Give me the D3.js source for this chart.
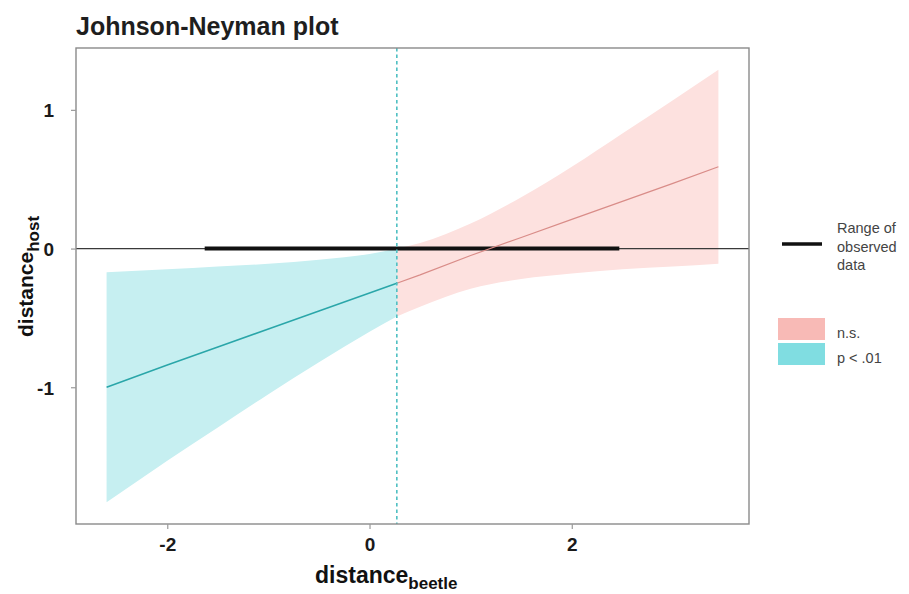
<!DOCTYPE html>
<html>
<head>
<meta charset="utf-8">
<script src="https://cdn.jsdelivr.net/npm/d3@7"></script>
<style>
  body { margin: 0; background: #fff; }
  svg { display: block; font-family: "Liberation Sans", Arial, Helvetica, sans-serif; }
</style>
</head>
<body>
<svg id="chart" width="909" height="594"></svg>
<script>
// Conditional slope of distance_host across distance_beetle, with 95% band
const moderator = [-2.6, -2.0, -1.5, -1.0, -0.5, 0, 0.27, 0.5, 1.0, 1.5, 2.0, 2.5, 3.0, 3.45];
const slope     = [-1.00, -0.84, -0.71, -0.58, -0.45, -0.32, -0.25, -0.19, -0.05, 0.08, 0.21, 0.34, 0.47, 0.59];
const lower     = [-1.83, -1.53, -1.29, -1.05, -0.82, -0.60, -0.49, -0.42, -0.29, -0.22, -0.18, -0.15, -0.13, -0.11];
const upper     = [-0.17, -0.15, -0.13, -0.11, -0.08, -0.04, 0.00, 0.04, 0.18, 0.37, 0.59, 0.83, 1.07, 1.29];

// Johnson-Neyman boundary and observed range of the moderator
const jnPoint = 0.27;
const observedRange = [-1.63, 2.47];

const xTicks = [-2, 0, 2];
const yTicks = [-1, 0, 1];
const legendLineLabel = ["Range of", "observed", "data"];
const legendBands = ["n.s.", "p < .01"];

const colors = {
  nsBand: "#fde1df", sigBand: "#c6eff1",
  nsLine: "#d98c88", sigLine: "#2aa6a9",
  nsKey: "#f8bab6", sigKey: "#80dde1",
  vline: "#4fbfc2"
};

const svg = d3.select("#chart");
const panel = { left: 76, right: 749, top: 48, bottom: 524 };

const rows = moderator.map((x, i) => ({ x, est: slope[i], lo: lower[i], hi: upper[i] }));
const sigRows = rows.filter(d => d.x <= jnPoint);
const nsRows = rows.filter(d => d.x >= jnPoint);

// 5% expansion around the data on both axes
const xExt = d3.extent(moderator);
const xPad = (xExt[1] - xExt[0]) * 0.05;
const yExt = [d3.min(lower), d3.max(upper)];
const yPad = (yExt[1] - yExt[0]) * 0.05;

const x = d3.scaleLinear().domain([xExt[0] - xPad, xExt[1] + xPad]).range([panel.left, panel.right]);
const y = d3.scaleLinear().domain([yExt[0] - yPad, yExt[1] + yPad]).range([panel.bottom, panel.top]);

const band = d3.area().x(d => x(d.x)).y0(d => y(d.lo)).y1(d => y(d.hi)).curve(d3.curveMonotoneX);
const line = d3.line().x(d => x(d.x)).y(d => y(d.est));

// Confidence bands
svg.append("path").datum(sigRows).attr("d", band).attr("fill", colors.sigBand);
svg.append("path").datum(nsRows).attr("d", band).attr("fill", colors.nsBand);

// Zero reference line
svg.append("line")
  .attr("x1", panel.left).attr("x2", panel.right)
  .attr("y1", y(0)).attr("y2", y(0))
  .attr("stroke", "#3a3a3a").attr("stroke-width", 1.2);

// Observed range of the moderator
svg.append("line")
  .attr("x1", x(observedRange[0])).attr("x2", x(observedRange[1]))
  .attr("y1", y(0)).attr("y2", y(0))
  .attr("stroke", "#111").attr("stroke-width", 4);

// Slope estimate, split at the boundary
svg.append("path").datum(sigRows).attr("d", line)
  .attr("fill", "none").attr("stroke", colors.sigLine).attr("stroke-width", 1.5);
svg.append("path").datum(nsRows).attr("d", line)
  .attr("fill", "none").attr("stroke", colors.nsLine).attr("stroke-width", 1.2);

// Johnson-Neyman boundary
svg.append("line")
  .attr("x1", x(jnPoint)).attr("x2", x(jnPoint))
  .attr("y1", panel.top).attr("y2", panel.bottom)
  .attr("stroke", colors.vline).attr("stroke-width", 1.6)
  .attr("stroke-dasharray", "3.5,3");

// Panel border
svg.append("rect")
  .attr("x", panel.left).attr("y", panel.top)
  .attr("width", panel.right - panel.left).attr("height", panel.bottom - panel.top)
  .attr("fill", "none").attr("stroke", "#8a8a8a").attr("stroke-width", 1.4);

// Axes (plain hyphen for negative labels)
const fmt = d => String(d);
const xAxis = svg.append("g").attr("transform", `translate(0,${panel.bottom})`)
  .call(d3.axisBottom(x).tickValues(xTicks).tickFormat(fmt).tickSize(5).tickPadding(9));
const yAxis = svg.append("g").attr("transform", `translate(${panel.left},0)`)
  .call(d3.axisLeft(y).tickValues(yTicks).tickFormat(fmt).tickSize(5).tickPadding(17));
[xAxis, yAxis].forEach(g => {
  g.select(".domain").remove();
  g.selectAll(".tick line").attr("stroke", "#9a9a9a").attr("stroke-width", 1.2);
  g.selectAll(".tick text")
    .attr("fill", "#1a1a1a")
    .style("font-family", '"Liberation Sans", Arial, sans-serif')
    .style("font-size", "19px").style("font-weight", "bold");
});
yAxis.selectAll(".tick text").attr("dy", "0.36em");

// Title
svg.append("text").attr("x", 76).attr("y", 35)
  .attr("fill", "#1e1e1e").style("font-size", "25px").style("font-weight", "bold")
  .text("Johnson-Neyman plot");

// Axis titles with subscripts
const xTitle = svg.append("text").attr("x", 315).attr("y", 583)
  .attr("fill", "#111").style("font-size", "23px").style("font-weight", "bold");
xTitle.append("tspan").text("distance");
xTitle.append("tspan").attr("dy", 6).style("font-size", "17px").text("beetle");

const yTitle = svg.append("text").attr("transform", "translate(33,337) rotate(-90)")
  .attr("fill", "#111").style("font-size", "21px").style("font-weight", "bold");
yTitle.append("tspan").text("distance");
yTitle.append("tspan").attr("dy", 6).style("font-size", "17px").text("host");

// Legend: observed range
const legend = svg.append("g");
legend.append("line").attr("x1", 782).attr("x2", 822).attr("y1", 244).attr("y2", 244)
  .attr("stroke", "#111").attr("stroke-width", 3.5);
legend.selectAll("text.range").data(legendLineLabel).join("text")
  .attr("class", "range")
  .attr("x", 837).attr("y", (d, i) => 233 + i * 18.5)
  .attr("fill", "#444").style("font-size", "14.5px")
  .text(d => d);

// Legend: significance bands
const keyFills = [colors.nsKey, colors.sigKey];
legend.selectAll("rect.key").data(legendBands).join("rect")
  .attr("class", "key")
  .attr("x", 778).attr("y", (d, i) => 318 + i * 25)
  .attr("width", 47).attr("height", 22)
  .attr("fill", (d, i) => keyFills[i]);
legend.selectAll("text.key").data(legendBands).join("text")
  .attr("class", "key")
  .attr("x", 837).attr("y", (d, i) => 334 + i * 25).attr("dy", "0.3em")
  .attr("fill", "#444").style("font-size", "14.5px")
  .text(d => d);
</script>
</body>
</html>
